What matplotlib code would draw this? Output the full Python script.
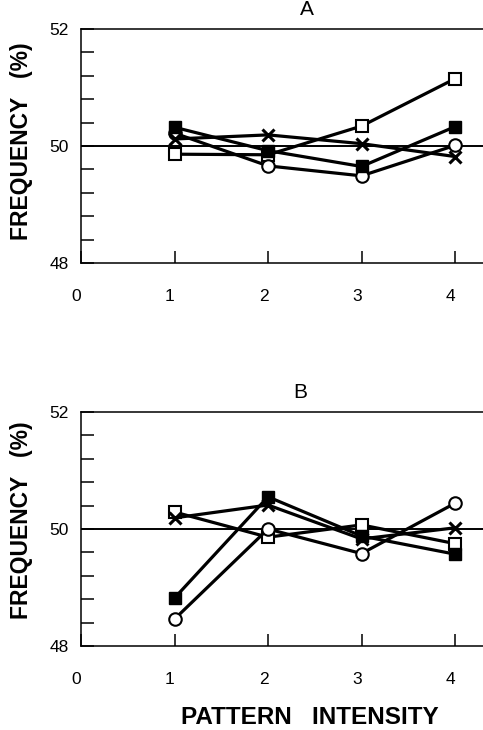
import matplotlib
matplotlib.use("Agg")
import matplotlib.pyplot as plt
import matplotlib.transforms as mtransforms
import numpy as np

plt.rcParams['font.family'] = ['Liberation Sans', 'DejaVu Sans']

intensity = [1, 2, 3, 4]

# Panel A
a_filled_sq = [50.32, 49.92, 49.65, 50.33]
a_open_sq = [49.86, 49.85, 50.34, 51.15]
a_circle = [50.22, 49.66, 49.49, 50.01]
a_cross = [50.12, 50.19, 50.04, 49.82]

# Panel B
b_filled_sq = [48.82, 50.55, 49.88, 49.57]
b_open_sq = [50.29, 49.86, 50.07, 49.75]
b_circle = [48.46, 50.00, 49.58, 50.44]
b_cross = [50.19, 50.41, 49.83, 50.02]

xtick_labels = ['0', '1', '2', '3', '4']
ytick_labels = ['48', '50', '52']

DPI = 100
W, H = 483, 730
fig = plt.figure(figsize=(W / DPI, H / DPI), dpi=DPI)

unit_px = 93.5
xmax = 4.4
ax_w = xmax * unit_px / W
ax_h = 234 / H
left = 81 / W


def make_panel(bottom_px, data, title, title_xy, ylab_y):
    ax = fig.add_axes([left, (H - bottom_px) / H, ax_w, ax_h])
    ax.set_xlim(0, xmax)
    ax.set_ylim(48, 52)
    fs, os_, ci, cr = data
    lw = 2.3
    ms = 9
    ax.axhline(50, color='black', lw=1.4, zorder=1)
    ax.plot(intensity, os_, color='black', lw=lw, marker='s', ms=ms,
            mfc='white', mec='black', mew=1.5, zorder=3)
    ax.plot(intensity, ci, color='black', lw=lw, marker='o', ms=ms,
            mfc='white', mec='black', mew=1.5, zorder=3)
    ax.plot(intensity, cr, color='black', lw=lw, marker='x', ms=8,
            mew=2.2, zorder=3)
    ax.plot(intensity, fs, color='black', lw=lw, marker='s', ms=ms,
            mfc='black', mec='black', zorder=4)
    for s in ax.spines.values():
        s.set_linewidth(1.1)
    ax.set_yticks([48, 50, 52])
    ax.set_yticklabels(ytick_labels)
    ax.set_yticks(np.arange(48, 52.01, 0.4), minor=True)
    ax.set_xticks([0, 1, 2, 3, 4])
    ax.set_xticklabels(xtick_labels)
    ax.tick_params(axis='both', which='both', direction='in', length=9,
                   width=1.1, labelsize=12.5)
    ax.tick_params(axis='y', which='major', pad=9)
    ax.tick_params(axis='x', which='major', pad=19)
    off = mtransforms.ScaledTranslation(-4.5 / DPI, 0, fig.dpi_scale_trans)
    for lab in ax.get_xticklabels():
        lab.set_transform(lab.get_transform() + off)
    ax.set_ylabel('FREQUENCY   (%)', fontsize=16.5, fontweight='bold')
    ax.yaxis.set_label_coords((33 - 81) / (xmax * unit_px), ylab_y)
    fig.text(title_xy[0] / W, 1 - title_xy[1] / H, title, fontsize=15,
             ha='center', va='center')
    return ax


axA = make_panel(263, (a_filled_sq, a_open_sq, a_circle, a_cross), 'A',
                 (307, 9.5), (263 - 141) / 234)
axB = make_panel(646, (b_filled_sq, b_open_sq, b_circle, b_cross), 'B',
                 (300, 392.5), (646 - 520) / 234)

fig.text(310 / W, 1 - 717.5 / H, 'PATTERN   INTENSITY', fontsize=17.5,
         fontweight='bold', ha='center', va='center')

fig.savefig('out.png', dpi=DPI)
